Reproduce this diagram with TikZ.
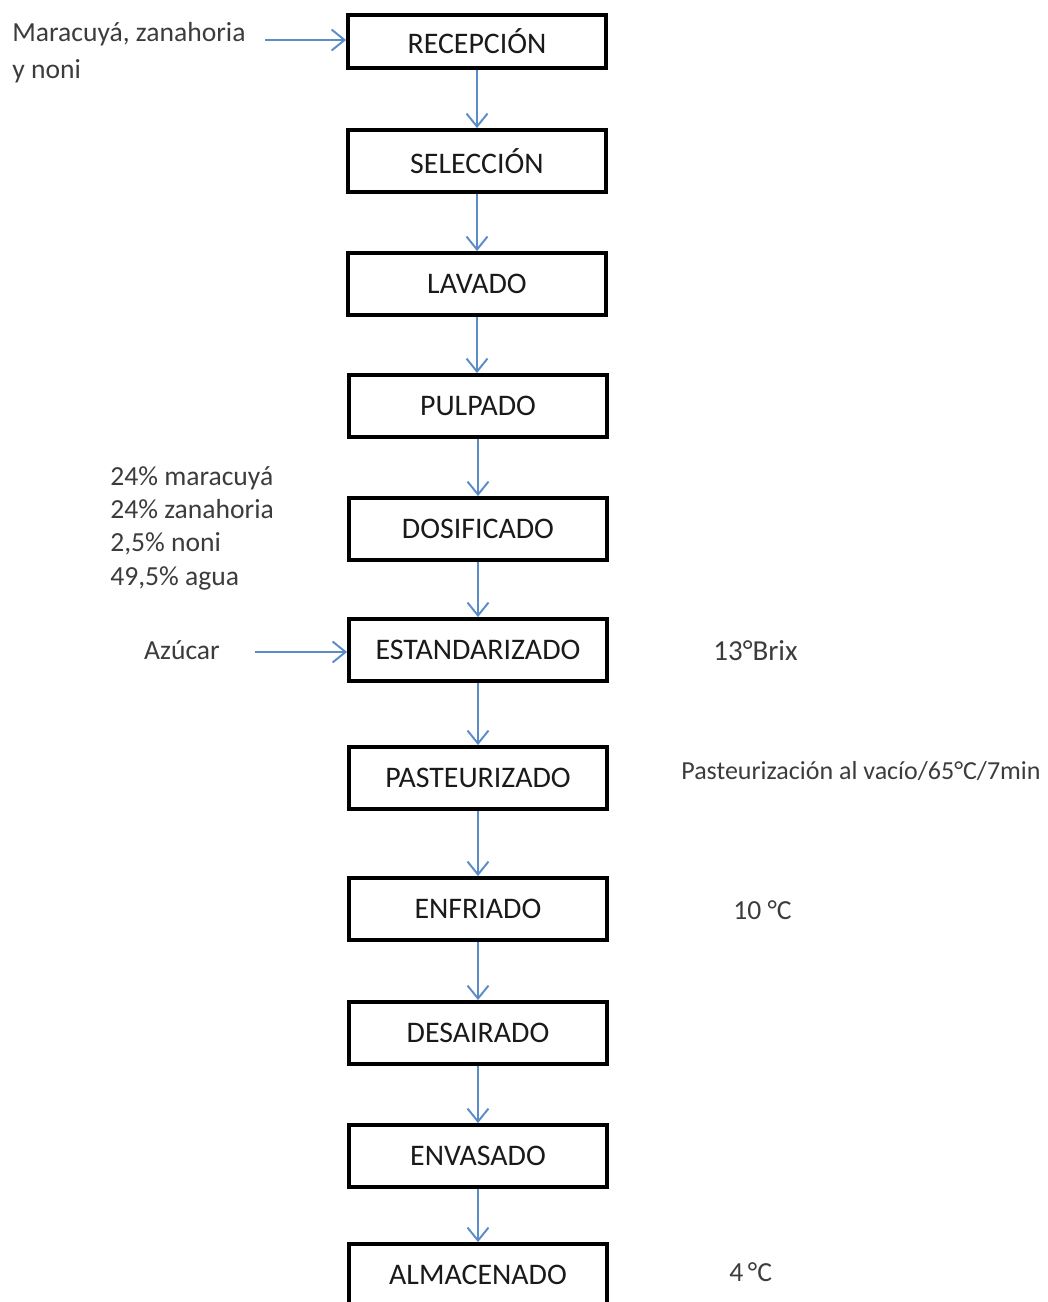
\documentclass[tikz,border=0pt]{standalone}
\usepackage{fontspec}
\setmainfont{Carlito}
\usetikzlibrary{arrows.meta,positioning}
\definecolor{FlowBlue}{HTML}{5B8CC8}
\definecolor{FlowInk}{HTML}{1A1A1A}
\tikzset{stage/.style={draw=black,line width=2.2pt,minimum width=5.16cm,minimum height=1.24cm,
inner sep=0pt,font=\fontsize{17}{19}\selectfont,text=FlowInk},
note/.style={font=\fontsize{15.7}{18}\selectfont,text=FlowInk!85,inner sep=0pt},
feed/.style={-{Straight Barb[length=2.6mm,width=4.2mm]},line width=1.1pt,draw=FlowBlue}}

\begin{document}
\begin{tikzpicture}[x=0.02cm,y=-0.02cm]
\useasboundingbox (0,0) rectangle (1048,1302);
% process line
\node[stage,minimum height=1.06cm](recep) at (477,41.5){RECEPCIÓN};
\node[stage](selec) at (477,161){SELECCIÓN};
\node[stage](lavado) at (477,284){LAVADO};
\node[stage](pulpa) at (478,406){PULPADO};
\node[stage](dosif) at (478,529){DOSIFICADO};
\node[stage](estand) at (478,650){ESTANDARIZADO};
\node[stage](pasteur) at (478,778){PASTEURIZADO};
\node[stage](enfri) at (478,909){ENFRIADO};
\node[stage](desai) at (478,1033){DESAIRADO};
\node[stage](envas) at (478,1156){ENVASADO};
\node[stage](almac) at (478,1275){ALMACENADO};
\draw[feed](recep)--(recep |- selec.north);\draw[feed](selec)--(lavado);\draw[feed](lavado)--(lavado |- pulpa.north);
\draw[feed](pulpa)--(dosif);\draw[feed](dosif)--(estand);\draw[feed](estand)--(pasteur);
\draw[feed](pasteur)--(enfri);\draw[feed](enfri)--(desai);\draw[feed](desai)--(envas);
\draw[feed](envas)--(almac);
% inputs
\node[note,anchor=north west,align=left](frutas) at (12,22){Maracuyá, zanahoria\\[3pt]y noni};
\coordinate (inFrutas) at (265,40);
\draw[feed](inFrutas)--(inFrutas -| recep.west);
\node[note](azucar) at (182,650){Azúcar};
\coordinate (inAzucar) at (255,652);
\draw[feed](inAzucar)--(inAzucar -| estand.west);
\node[note,anchor=north west,align=left](mezcla) at (110,466){24\% maracuyá\\[1pt]24\% zanahoria\\[1pt]2,5\% noni\\[1pt]49,5\% agua};
% conditions
\node[note,anchor=west,font=\fontsize{16.5}{19}\selectfont](brix) at (713,651){13°Brix};
\node[note,anchor=west,font=\fontsize{14.8}{17}\selectfont](vacio) at (681,771){Pasteurización al vacío/65°C/7min};
\node[note,anchor=west](tEnfri) at (733,910){10 °C};
\node[note,anchor=west](tAlmac) at (729,1272){4\,°C};
\end{tikzpicture}
\end{document}
